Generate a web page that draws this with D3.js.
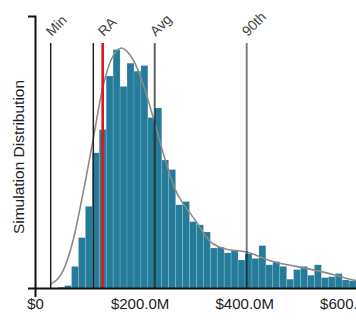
<!DOCTYPE html>
<html>
<head>
<meta charset="utf-8">
<script src="https://cdn.jsdelivr.net/npm/d3@7"></script>
<style>
  html, body { margin: 0; padding: 0; background: #fff; overflow: hidden; }
  svg { display: block; font-family: "Liberation Sans", Arial, Helvetica, sans-serif; }
</style>
</head>
<body>
<div id="chart"></div>
<script>
// Simulated loss distribution, values in $M
const binStart = 30;      // lower edge of first bin ($M)
const binWidth = 13.27;   // bin width ($M)
const binCounts = [0, 1, 3, 27, 63, 102, 169, 198, 265, 298, 252, 281, 271, 278, 213, 225,
                   160, 148, 104, 108, 83, 79, 70, 50, 51, 44, 47, 35, 43, 37, 53, 29,
                   33, 27, 11, 23, 27, 16, 29, 13, 14, 18, 10, 9];

// Smoothed density fit (x in $M, y in count units)
const fitX = [30, 54, 73, 92, 111, 130, 150, 166, 172, 191, 210, 229, 249, 268, 287, 306,
              320, 335, 354, 379, 405, 430, 455, 499, 537, 575, 608, 645];
const fitY = [5, 22, 60, 119, 185, 252, 291, 300, 298, 281, 248, 206, 160, 123, 102, 85,
              71, 58, 51, 47, 45, 39, 33, 27, 22, 16, 10, 6];

// Reference markers
const markerLabels = ["Min", "", "RA", "Avg", "90th"];
const markerValues = [30, 111.5, 129.4, 228.9, 404.8];
const markerColors = ["#222", "#222", "#e3161d", "rgba(0,0,0,0.62)", "rgba(0,0,0,0.5)"];
const markerWidths = [1.5, 1.5, 2.6, 2, 2];

const xTickValues = [0, 200, 400, 600];
const yLabel = "Simulation Distribution";

const W = 356, H = 320;
const margin = { left: 35, top: 16, bottom: 32 };
const baseY = H - margin.bottom;

const svg = d3.select("#chart").append("svg")
  .attr("width", W).attr("height", H);

const x = d3.scaleLinear().domain([0, 650]).range([margin.left, margin.left + 650 * 0.523]);
const y = d3.scaleLinear().domain([0, 340]).range([baseY, margin.top]);

// Histogram bars
svg.append("g").selectAll("rect")
  .data(binCounts)
  .join("rect")
  .attr("x", (d, i) => x(binStart + i * binWidth))
  .attr("width", (d, i) => x(binStart + (i + 1) * binWidth) - x(binStart + i * binWidth))
  .attr("y", d => y(d))
  .attr("height", d => y(0) - y(d))
  .attr("fill", "#257b9a")
  .attr("stroke", "rgba(255,255,255,0.18)")
  .attr("stroke-width", 0.8);

// Density curve
const line = d3.line()
  .x(d => x(d[0]))
  .y(d => y(d[1]))
  .curve(d3.curveMonotoneX);
svg.append("path")
  .datum(fitX.map((v, i) => [v, fitY[i]]))
  .attr("d", line)
  .attr("fill", "none")
  .attr("stroke", "#8a8a8a")
  .attr("stroke-width", 1.6);

// Marker lines and labels
const lineTop = 43;
const markers = svg.append("g").selectAll("g")
  .data(markerValues.map((v, i) => ({ v, label: markerLabels[i], color: markerColors[i], w: markerWidths[i] })))
  .join("g");
markers.append("line")
  .attr("x1", d => x(d.v)).attr("x2", d => x(d.v))
  .attr("y1", lineTop).attr("y2", baseY)
  .attr("stroke", d => d.color)
  .attr("stroke-width", d => d.w);
markers.filter(d => d.label)
  .append("text")
  .attr("transform", d => `translate(${x(d.v) + 1},37) rotate(-45)`)
  .attr("font-size", 14)
  .attr("fill", "#444")
  .text(d => d.label);

// Axes
const xAxis = d3.axisBottom(x)
  .tickValues(xTickValues)
  .tickSizeInner(0)
  .tickSizeOuter(9)
  .tickPadding(10)
  .tickFormat(d => d === 0 ? "$0" : "$" + d.toFixed(1) + "M");
const gx = svg.append("g")
  .attr("transform", `translate(0,${baseY})`)
  .call(xAxis);
gx.select(".domain").attr("stroke", "#111").attr("stroke-width", 2);
gx.selectAll("text").attr("font-size", 15).attr("fill", "#222").attr("font-family", null);

const yAxis = d3.axisLeft(y).tickValues([]).tickSizeOuter(7);
const gy = svg.append("g")
  .attr("transform", `translate(${margin.left},0)`)
  .call(yAxis);
gy.select(".domain").attr("stroke", "#111").attr("stroke-width", 2);

svg.append("text")
  .attr("transform", `translate(23.5,${(margin.top + baseY) / 2 + 5}) rotate(-90)`)
  .attr("text-anchor", "middle")
  .attr("font-size", 15.5)
  .attr("fill", "#222")
  .text(yLabel);
</script>
</body>
</html>
